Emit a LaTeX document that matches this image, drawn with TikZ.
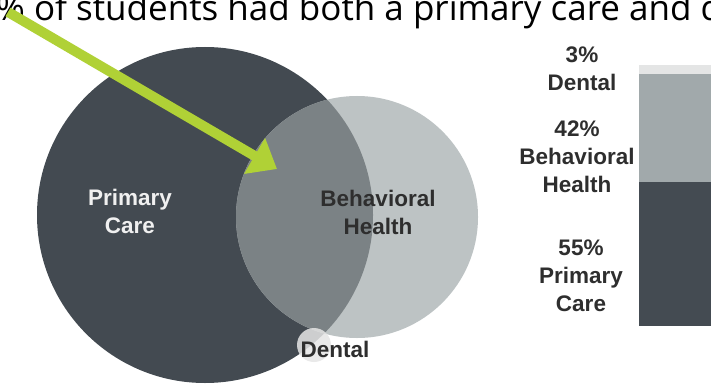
\documentclass[tikz,border=0pt]{standalone}
\usepackage{fontspec}
\setmainfont{Liberation Sans}
\newfontfamily\titlefont{Open Sans}
\usetikzlibrary{arrows.meta}
\definecolor{darkc}{HTML}{434A51}
\definecolor{lightc}{HTML}{BDC3C4}
\definecolor{lensc}{HTML}{7B8285}
\definecolor{dentc}{HTML}{E6E6E6}
\definecolor{greenc}{HTML}{B0D136}
\definecolor{barlight}{HTML}{E4E5E5}
\definecolor{barmid}{HTML}{A1A9AB}
\definecolor{bardark}{HTML}{444B52}
\definecolor{txtdark}{HTML}{2E2E2E}
\tikzset{
  lbl/.style={font=\fontsize{22.5}{28}\selectfont\bfseries, align=center, inner sep=0pt},
  darklbl/.style={lbl, text=txtdark},
  whitelbl/.style={lbl, text=white!94!black},
}
\begin{document}
\begin{tikzpicture}[x=1pt,y=-1pt]
\useasboundingbox (0,0) rectangle (711,385);
\clip (0,0) rectangle (711,385);
\fill[white] (0,0) rectangle (711,385);
% title (clipped at the top edge, as in the reference)
\node[anchor=base west, inner sep=0pt, font=\titlefont\fontsize{35}{40}\selectfont, text=black] (title) at (-4,21) {\% of students had both a primary care and d};
% Venn
\fill[darkc] (205,215) circle[radius=168];
\fill[lightc] (357,217) circle[radius=121];
\begin{scope}
  \clip (205,215) circle[radius=168];
  \fill[lensc] (357,217) circle[radius=121];
\end{scope}
\fill[dentc, opacity=0.85] (314,345) circle[radius=17];
\node[whitelbl] (pc) at (130,211) {Primary\\Care};
\node[darklbl] (bh) at (378,212) {Behavioral\\Health};
\node[darklbl] (dn) at (335,349) {Dental};
% arrow
\coordinate (as) at (8,12);
\coordinate (ae) at (277,169);
\draw[greenc, line width=10pt, -{Triangle[length=26pt,width=40pt]}] (as) -- (ae);
% bar
\fill[barlight] (639,65) rectangle (711,74);
\fill[barmid] (639,74) rectangle (711,182);
\fill[bardark] (639,182) rectangle (711,326);
\node[darklbl] (l1) at (582,69) {3\%\\Dental};
\node[darklbl] (l2) at (577,157) {42\%\\Behavioral\\Health};
\node[darklbl] (l3) at (581,276) {55\%\\Primary\\Care};
\end{tikzpicture}
\end{document}
